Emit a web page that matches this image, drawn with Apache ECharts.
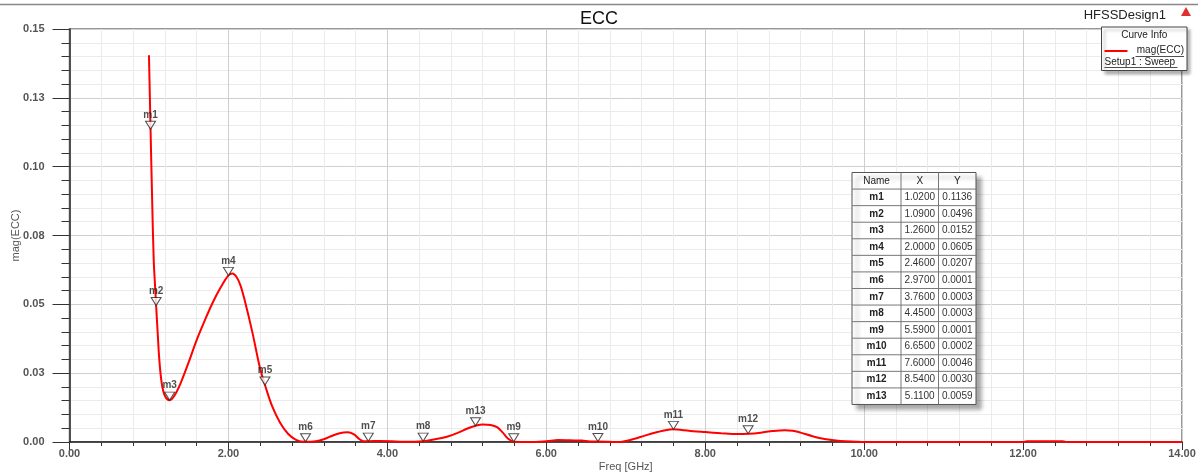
<!DOCTYPE html>
<html>
<head>
<meta charset="utf-8">
<script src="https://cdn.jsdelivr.net/npm/echarts@6/dist/echarts.min.js"></script>
<style>
html,body{margin:0;padding:0;background:#fff;}
#c{width:1198px;height:474px;}
</style>
</head>
<body>
<div id="c"></div>
<script>
// ---- data ----
const freq = [1.00,1.01,1.02,1.04,1.06,1.08,1.09,1.11,1.13,1.16,1.20,1.26,1.32,1.40,1.50,1.60,1.70,1.80,1.90,2.00,2.05,2.10,2.15,2.20,2.30,2.40,2.46,2.55,2.65,2.75,2.85,2.97,3.10,3.20,3.30,3.40,3.50,3.58,3.65,3.70,3.76,3.90,4.05,4.20,4.45,4.60,4.75,4.90,5.00,5.11,5.20,5.30,5.38,5.45,5.52,5.59,5.80,6.00,6.15,6.30,6.45,6.55,6.65,6.90,7.00,7.10,7.25,7.40,7.50,7.60,7.70,7.85,8.00,8.20,8.40,8.54,8.70,8.85,9.00,9.10,9.20,9.35,9.50,9.70,9.90,10.00,12.00,12.05,12.50,12.55,14.00];
const ecc  = [0.1405,0.1270,0.1136,0.0880,0.0660,0.0550,0.0496,0.0395,0.0300,0.0215,0.0168,0.0152,0.0168,0.0215,0.0290,0.0370,0.0440,0.0505,0.0560,0.0605,0.0612,0.0600,0.0570,0.0520,0.0400,0.0265,0.0207,0.0130,0.0070,0.0030,0.0008,0.0001,0.0003,0.0010,0.0022,0.0032,0.0035,0.0028,0.0010,0.0003,0.0003,0.0004,0.0003,0.0001,0.0003,0.0010,0.0019,0.0035,0.0048,0.0059,0.0064,0.0062,0.0054,0.0035,0.0012,0.0001,0.0000,0.0003,0.0007,0.0006,0.0005,0.0002,0.0002,0.0000,0.0004,0.0011,0.0024,0.0036,0.0043,0.0046,0.0044,0.0039,0.0036,0.0032,0.0029,0.0030,0.0034,0.0040,0.0043,0.0041,0.0034,0.0021,0.0011,0.0004,0.0001,0.0000,0.0000,0.0003,0.0003,0.0000,0.0000];
const markerNames = ['m1','m2','m3','m4','m5','m6','m7','m8','m9','m10','m11','m12','m13'];
const markerX = [1.02,1.09,1.26,2.00,2.46,2.97,3.76,4.45,5.59,6.65,7.60,8.54,5.11];
const markerY = [0.1136,0.0496,0.0152,0.0605,0.0207,0.0001,0.0003,0.0003,0.0001,0.0002,0.0046,0.0030,0.0059];
const yTickLabels = ['0.00','0.03','0.05','0.08','0.10','0.13','0.15'];
const tableHeader = ['Name','X','Y'];
const titleText = 'ECC';
const designName = 'HFSSDesign1';
const seriesName = 'mag(ECC)';
const setupName = 'Setup1 : Sweep';

// ---- chart ----
const chart = echarts.init(document.getElementById('c'), null, {renderer:'canvas'});
const FONT = '"Liberation Sans", Arial, sans-serif';

// marker table graphic
const tL = 852, tT = 172.5, colW = [49, 37.5, 37.5], rowH = 16.57;
const tW = colW[0]+colW[1]+colW[2], tH = rowH*(markerNames.length+1);
const tableEls = [];
tableEls.push({type:'rect', shape:{x:tL, y:tT, width:tW, height:tH},
  style:{fill:'#fff', stroke:'#555', lineWidth:1, shadowBlur:4, shadowOffsetX:5, shadowOffsetY:5, shadowColor:'rgba(0,0,0,0.35)'}});
for (let r = 1; r <= markerNames.length; r++) {
  tableEls.push({type:'line', shape:{x1:tL, y1:tT+r*rowH, x2:tL+tW, y2:tT+r*rowH}, style:{stroke:'#777', lineWidth:1}});
}
tableEls.push({type:'line', shape:{x1:tL+colW[0], y1:tT, x2:tL+colW[0], y2:tT+tH}, style:{stroke:'#777', lineWidth:1}});
tableEls.push({type:'line', shape:{x1:tL+colW[0]+colW[1], y1:tT, x2:tL+colW[0]+colW[1], y2:tT+tH}, style:{stroke:'#777', lineWidth:1}});
const colCx = [tL+colW[0]/2, tL+colW[0]+colW[1]/2, tL+colW[0]+colW[1]+colW[2]/2];
tableHeader.forEach((h,i)=>{
  tableEls.push({type:'text', style:{text:h, x:colCx[i], y:tT+rowH/2, align:'center', verticalAlign:'middle', font:'10px '+FONT, fill:'#222'}});
});
markerNames.forEach((n,k)=>{
  const cy = tT+(k+1.5)*rowH;
  tableEls.push({type:'text', style:{text:n, x:colCx[0], y:cy, align:'center', verticalAlign:'middle', font:'bold 10px '+FONT, fill:'#222'}});
  tableEls.push({type:'text', style:{text:markerX[k].toFixed(4), x:colCx[1], y:cy, align:'center', verticalAlign:'middle', font:'10px '+FONT, fill:'#333'}});
  tableEls.push({type:'text', style:{text:markerY[k].toFixed(4), x:colCx[2], y:cy, align:'center', verticalAlign:'middle', font:'10px '+FONT, fill:'#333'}});
});

// curve info box
const lgL = 1101.5, lgT = 27, lgW = 85.5, lgH = 43.5;
const legendEls = [
  {type:'rect', shape:{x:lgL, y:lgT, width:lgW, height:lgH}, style:{fill:'#fff', stroke:'#444', lineWidth:1, shadowBlur:3, shadowOffsetX:3, shadowOffsetY:3, shadowColor:'rgba(0,0,0,0.3)'}},
  {type:'text', style:{text:'Curve Info', x:lgL+lgW/2, y:lgT+8.5, align:'center', verticalAlign:'middle', font:'10px '+FONT, fill:'#222'}},
  {type:'line', shape:{x1:lgL+3, y1:lgT+24, x2:lgL+26, y2:lgT+24}, style:{stroke:'#ff0000', lineWidth:2}},
  {type:'text', style:{text:seriesName, x:lgL+lgW-3, y:lgT+23.5, align:'right', verticalAlign:'middle', font:'10px '+FONT, fill:'#222'}},
  {type:'line', shape:{x1:lgL+34, y1:lgT+29.5, x2:lgL+lgW-3, y2:lgT+29.5}, style:{stroke:'#222', lineWidth:0.8}},
  {type:'text', style:{text:setupName, x:lgL+3, y:lgT+35, align:'left', verticalAlign:'middle', font:'10px '+FONT, fill:'#222'}},
  {type:'line', shape:{x1:lgL+3, y1:lgT+40.5, x2:lgL+76, y2:lgT+40.5}, style:{stroke:'#222', lineWidth:0.8}}
];

const option = {
  backgroundColor:'#fff',
  animation:false,
  title:{text:titleText, left:'center', top:5, textStyle:{fontFamily:FONT, fontSize:18, fontWeight:'normal', color:'#111'}},
  grid:{left:69.5, right:16, top:29, bottom:32, containLabel:false, outerBoundsMode:'none',
        show:true, borderColor:'#777', borderWidth:1.5, backgroundColor:'transparent'},
  xAxis:{
    type:'value', min:0, max:14, interval:2,
    name:'Freq [GHz]', nameLocation:'middle', nameGap:19, nameMoveOverlap:false,
    nameTextStyle:{fontFamily:FONT, fontSize:11, color:'#555'},
    axisLine:{show:true, onZero:false, lineStyle:{color:'#222', width:1.5}},
    axisTick:{show:true, length:8, lineStyle:{color:'#333'}},
    minorTick:{show:true, splitNumber:5, length:4, lineStyle:{color:'#333'}},
    axisLabel:{margin:6, fontFamily:FONT, fontSize:11, fontWeight:'bold', color:'#555', formatter:v=>v.toFixed(2)},
    splitLine:{show:true, lineStyle:{color:'#cfcfcf', width:1}},
    minorSplitLine:{show:true, lineStyle:{color:'#ebebeb', width:1}}
  },
  yAxis:{
    type:'value', min:0, max:0.15, interval:0.025,
    name:'mag(ECC)', nameLocation:'middle', nameGap:48, nameMoveOverlap:false,
    nameTextStyle:{fontFamily:FONT, fontSize:11, color:'#555'},
    axisLine:{show:true, lineStyle:{color:'#222', width:1.5}},
    axisTick:{show:true, length:17, lineStyle:{color:'#333'}},
    minorTick:{show:true, splitNumber:5, length:8, lineStyle:{color:'#333'}},
    axisLabel:{margin:25, fontFamily:FONT, fontSize:11, fontWeight:'bold', color:'#555',
      formatter:v=>yTickLabels[Math.round(v/0.025)]},
    splitLine:{show:true, lineStyle:{color:'#cfcfcf', width:1}},
    minorSplitLine:{show:true, lineStyle:{color:'#ebebeb', width:1}}
  },
  series:[
    {
      name:seriesName, type:'line', data:freq.map((f,i)=>[f, ecc[i]]),
      smooth:0.35, showSymbol:false, symbol:'none',
      lineStyle:{color:'#ff0000', width:2}, z:3
    },
    {
      name:'markers', type:'scatter', data:markerX.map((x,i)=>({name:markerNames[i], value:[x, markerY[i]]})),
      symbol:'path://M0,0 L10,0 L5,8 Z', symbolSize:[10,8], symbolOffset:[0,'-50%'],
      itemStyle:{color:'#fff', borderColor:'#222', borderWidth:1},
      label:{show:true, position:'top', distance:1, formatter:p=>p.name, fontFamily:FONT, fontSize:10, fontWeight:'bold', color:'#222'},
      z:4
    }
  ],
  graphic:[
    {type:'line', z:100, shape:{x1:0, y1:4.5, x2:1198, y2:4.5}, style:{stroke:'#888', lineWidth:1.5}},
    {type:'text', z:100, style:{text:designName, x:1166, y:15, align:'right', verticalAlign:'middle', font:'13px '+FONT, fill:'#222'}},
    {type:'polygon', z:100, shape:{points:[[1186,7],[1181,16],[1191,16]]}, style:{fill:'#e03030'}},
    {type:'group', z:100, children:tableEls.map(e=>Object.assign({z:100}, e))},
    {type:'group', z:100, children:legendEls.map(e=>Object.assign({z:100}, e))}
  ]
};
chart.setOption(option);
</script>
</body>
</html>
